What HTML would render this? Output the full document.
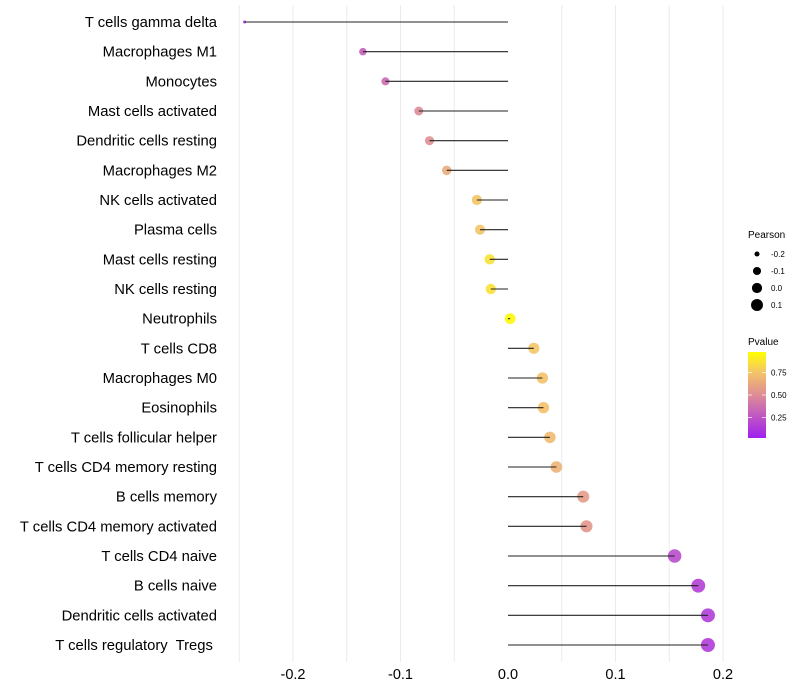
<!DOCTYPE html>
<html><head><meta charset="utf-8"><style>
body{margin:0;background:#fff;}
svg{display:block;font-family:"Liberation Sans",sans-serif;}
text{white-space:pre;}
</style></head><body>
<svg id="chart" width="800" height="700"></svg>
<script>
const categories=["T cells gamma delta","Macrophages M1","Monocytes","Mast cells activated","Dendritic cells resting","Macrophages M2","NK cells activated","Plasma cells","Mast cells resting","NK cells resting","Neutrophils","T cells CD8","Macrophages M0","Eosinophils","T cells follicular helper","T cells CD4 memory resting","B cells memory","T cells CD4 memory activated","T cells CD4 naive","B cells naive","Dendritic cells activated","T cells regulatory  Tregs "];
const pearson=[-0.245,-0.135,-0.114,-0.083,-0.073,-0.057,-0.029,-0.026,-0.017,-0.016,0.002,0.024,0.032,0.033,0.039,0.045,0.070,0.073,0.155,0.177,0.186,0.186];
const pvalue=[0.05,0.3,0.35,0.5,0.52,0.65,0.76,0.76,0.88,0.88,0.98,0.77,0.75,0.75,0.72,0.68,0.57,0.55,0.2,0.15,0.13,0.13];
const xTicks=[-0.2,-0.1,0.0,0.1,0.2];
const xTickLabels=["-0.2","-0.1","0.0","0.1","0.2"];
const gridVals=[-0.25,-0.2,-0.15,-0.1,-0.05,0.05,0.1,0.15,0.2];
const sizeLegendVals=[-0.2,-0.1,0.0,0.1];
const colorLegendVals=[0.25,0.5,0.75];

const NS="http://www.w3.org/2000/svg";
const svg=document.getElementById('chart');
const xs=v=>508+v*1075;
const ys=i=>22+i*(623/21);
const rs=v=>Math.sqrt(Math.max(1,28.8+108.5*v));
function lerp(a,b,t){return a.map((x,i)=>Math.round(x+(b[i]-x)*t));}
const stops=[[0,[160,32,240]],[0.5,[222,140,150]],[0.78,[245,200,100]],[1,[255,255,0]]];
function col(p){p=Math.max(0,Math.min(1,p));for(let i=0;i<stops.length-1;i++){if(p<=stops[i+1][0]){const t=(p-stops[i][0])/(stops[i+1][0]-stops[i][0]);const c=lerp(stops[i][1],stops[i+1][1],t);return `rgb(${c[0]},${c[1]},${c[2]})`;}}return 'rgb(255,255,0)';}
function mk(tag,attrs,parent){const e=document.createElementNS(NS,tag);for(const k in attrs)e.setAttribute(k,attrs[k]);(parent||svg).appendChild(e);return e;}

gridVals.forEach(v=>{
  const l=mk('line',{x1:xs(v),x2:xs(v),y1:5,y2:662,stroke:'#ebebeb','stroke-width':1});
  
  
});
xTicks.forEach((v,i)=>{
  const t=mk('text',{x:xs(v),y:679,'text-anchor':'middle','font-size':14.5,fill:'#000'});
  t.textContent=xTickLabels[i];
  
  
});
categories.forEach((c,i)=>{
  const y=ys(i);
  const t=mk('text',{x:217,y:y+5,'text-anchor':'end','font-size':14.8,fill:'#000'});
  t.textContent=c;
  
  
  const p=mk('circle',{cx:xs(pearson[i]),cy:y,r:rs(pearson[i]),fill:col(pvalue[i]),'fill-opacity':0.9});
  
  
  const l=mk('line',{x1:xs(0),x2:xs(pearson[i]),y1:y,y2:y,stroke:'#222','stroke-width':1.1});
  
  
});
const st=mk('text',{x:748,y:238,'font-size':10});st.textContent='Pearson';


sizeLegendVals.forEach((v,i)=>{
  const y=254+i*17;
  const c=mk('circle',{cx:757,cy:y,r:rs(v)*0.95,fill:'#000'});
  
  
  const t=mk('text',{x:771,y:y+3,'font-size':8});t.textContent=v.toFixed(1);
  
  
});
const ct=mk('text',{x:748,y:345,'font-size':10});ct.textContent='Pvalue';


const defs=mk('defs',{});
const g=mk('linearGradient',{id:'pg',x1:0,y1:1,x2:0,y2:0},defs);
mk('stop',{offset:'0','stop-color':'rgb(160,32,240)'},g);
mk('stop',{offset:'0.5','stop-color':'rgb(222,140,150)'},g);
mk('stop',{offset:'0.78','stop-color':'rgb(245,200,100)'},g);
mk('stop',{offset:'1','stop-color':'rgb(255,255,0)'},g);
const cb=mk('rect',{x:748,y:352,width:18,height:86,fill:'url(#pg)'});


const cy=v=>438-(v-0.02)/(0.98-0.02)*86;
colorLegendVals.forEach(v=>{
  const y=cy(v);
  mk('line',{x1:748,x2:752,y1:y,y2:y,stroke:'#fff','stroke-width':0.7});
  mk('line',{x1:762,x2:766,y1:y,y2:y,stroke:'#fff','stroke-width':0.7});
  const t=mk('text',{x:771,y:y+3,'font-size':8});t.textContent=v.toFixed(2);
  
  
});
</script>
</body></html>
